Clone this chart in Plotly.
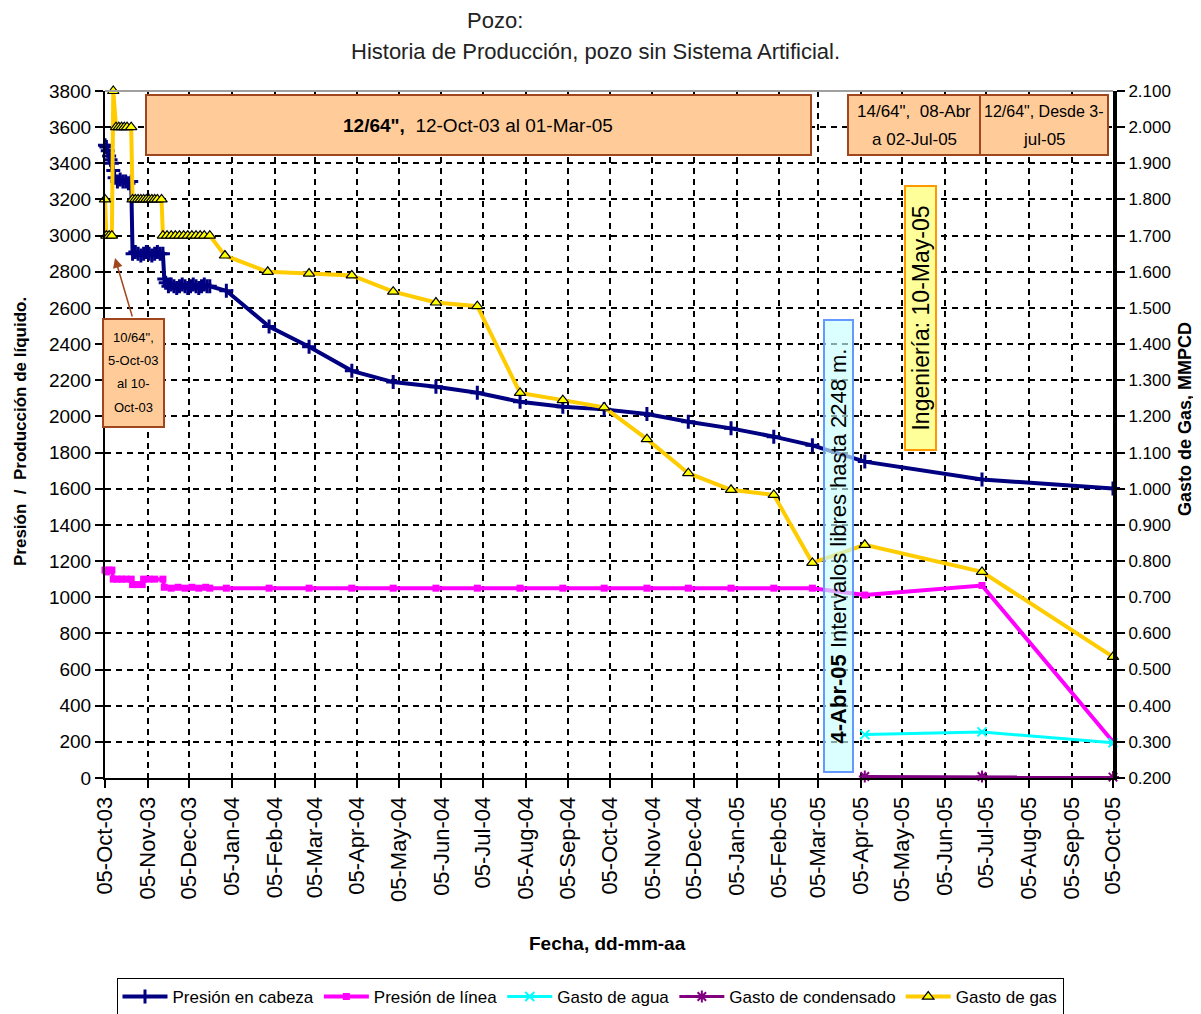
import plotly.graph_objects as go

# ---- datos ----
cab_fecha = ["2003-10-05", "2003-10-06", "2003-10-07", "2003-10-08", "2003-10-09", "2003-10-10",
             "2003-10-11", "2003-10-12", "2003-10-14", "2003-10-16", "2003-10-18", "2003-10-20",
             "2003-10-22", "2003-10-24", "2003-10-25", "2003-10-27", "2003-10-29", "2003-10-31",
             "2003-11-02", "2003-11-04", "2003-11-06", "2003-11-08", "2003-11-10", "2003-11-12",
             "2003-11-14", "2003-11-16", "2003-11-17", "2003-11-18", "2003-11-20", "2003-11-22",
             "2003-11-24", "2003-11-26", "2003-11-28", "2003-11-30", "2003-12-02", "2003-12-04",
             "2003-12-06", "2003-12-08", "2003-12-10", "2003-12-12", "2003-12-14", "2003-12-16",
             "2003-12-18", "2003-12-20", "2004-01-01", "2004-02-01", "2004-03-01", "2004-04-01",
             "2004-05-01", "2004-06-01", "2004-07-01", "2004-08-01", "2004-09-01", "2004-10-01",
             "2004-11-01", "2004-12-01", "2005-01-01", "2005-02-01", "2005-03-01", "2005-04-08",
             "2005-07-02", "2005-10-05"]
cab_presion = [3500, 3490, 3470, 3440, 3420, 3400,
               3360, 3320, 3300, 3310, 3300, 3300,
               3290, 3300, 2900, 2910, 2900, 2890,
               2900, 2910, 2900, 2890, 2900, 2910,
               2900, 2900, 2760, 2740, 2720, 2730,
               2720, 2710, 2720, 2730, 2720, 2710,
               2720, 2730, 2720, 2710, 2720, 2730,
               2720, 2720, 2695, 2497, 2386, 2252,
               2190, 2164, 2131, 2081, 2054, 2039,
               2013, 1971, 1934, 1888, 1840, 1750,
               1651, 1602]

lin_fecha = ["2003-10-05", "2003-10-06", "2003-10-08", "2003-10-10", "2003-10-11", "2003-10-14",
             "2003-10-17", "2003-10-20", "2003-10-24", "2003-10-25", "2003-10-28", "2003-11-01",
             "2003-11-02", "2003-11-06", "2003-11-10", "2003-11-16", "2003-11-17", "2003-11-22",
             "2003-11-27", "2003-12-02", "2003-12-07", "2003-12-12", "2003-12-17", "2003-12-20",
             "2004-01-01", "2004-02-01", "2004-03-01", "2004-04-01", "2004-05-01", "2004-06-01",
             "2004-07-01", "2004-08-01", "2004-09-01", "2004-10-01", "2004-11-01", "2004-12-01",
             "2005-01-01", "2005-02-01", "2005-03-01", "2005-04-08", "2005-07-02", "2005-10-05"]
lin_presion = [1150, 1140, 1150, 1150, 1100, 1100,
               1100, 1100, 1100, 1070, 1070, 1070,
               1100, 1100, 1100, 1100, 1055, 1050,
               1055, 1050, 1055, 1050, 1055, 1050,
               1050, 1050, 1050, 1050, 1050, 1050,
               1050, 1050, 1050, 1050, 1050, 1050,
               1050, 1050, 1050, 1012, 1065, 200]

agua_fecha = ["2005-04-08", "2005-07-02", "2005-10-05"]
agua_gasto = [240, 255, 195]

cond_fecha = ["2005-04-08", "2005-07-02", "2005-10-05"]
cond_gasto = [8, 8, 5]

gas_fecha = ["2003-10-05", "2003-10-06", "2003-10-08", "2003-10-10", "2003-10-11", "2003-10-13",
             "2003-10-15", "2003-10-17", "2003-10-19", "2003-10-21", "2003-10-24", "2003-10-25",
             "2003-10-27", "2003-10-29", "2003-10-31", "2003-11-02", "2003-11-04", "2003-11-06",
             "2003-11-08", "2003-11-10", "2003-11-12", "2003-11-15", "2003-11-16", "2003-11-19",
             "2003-11-22", "2003-11-25", "2003-11-28", "2003-12-01", "2003-12-04", "2003-12-07",
             "2003-12-10", "2003-12-13", "2003-12-16", "2003-12-20", "2003-12-31", "2004-01-31",
             "2004-03-01", "2004-04-01", "2004-05-01", "2004-06-01", "2004-07-01", "2004-08-01",
             "2004-09-01", "2004-10-01", "2004-11-01", "2004-12-01", "2005-01-01", "2005-02-01",
             "2005-03-01", "2005-04-08", "2005-07-02", "2005-10-05"]
gas_gasto = [1.80, 1.70, 1.70, 1.70, 2.10, 2.00,
             2.00, 2.00, 2.00, 2.00, 2.00, 1.80,
             1.80, 1.80, 1.80, 1.80, 1.80, 1.80,
             1.80, 1.80, 1.80, 1.80, 1.70, 1.70,
             1.70, 1.70, 1.70, 1.70, 1.70, 1.70,
             1.70, 1.70, 1.70, 1.70, 1.645, 1.60,
             1.595, 1.59, 1.545, 1.515, 1.505, 1.265,
             1.245, 1.225, 1.137, 1.043, 0.997, 0.983,
             0.795, 0.845, 0.77, 0.535]

tick_fechas = ["2003-10-05", "2003-11-05", "2003-12-05", "2004-01-05", "2004-02-05", "2004-03-05",
               "2004-04-05", "2004-05-05", "2004-06-05", "2004-07-05", "2004-08-05", "2004-09-05",
               "2004-10-05", "2004-11-05", "2004-12-05", "2005-01-05", "2005-02-05", "2005-03-05",
               "2005-04-05", "2005-05-05", "2005-06-05", "2005-07-05", "2005-08-05", "2005-09-05",
               "2005-10-05"]
tick_textos = ["05-Oct-03", "05-Nov-03", "05-Dec-03", "05-Jan-04", "05-Feb-04", "05-Mar-04",
               "05-Apr-04", "05-May-04", "05-Jun-04", "05-Jul-04", "05-Aug-04", "05-Sep-04",
               "05-Oct-04", "05-Nov-04", "05-Dec-04", "05-Jan-05", "05-Feb-05", "05-Mar-05",
               "05-Apr-05", "05-May-05", "05-Jun-05", "05-Jul-05", "05-Aug-05", "05-Sep-05",
               "05-Oct-05"]

FONT = "Liberation Sans, Arial"
OFF = 8                      # margen del body de la página
W, H = 1201 - OFF, 1014 - OFF
PX0, PX1, PY0, PY1 = 105, 1113, 91, 778   # área de trazado en la imagen


# pixeles de la imagen -> coordenadas paper
def px_x(p):
    return (p - PX0) / (PX1 - PX0)


def px_y(p):
    return (PY1 - p) / (PY1 - PY0)


def texto(x, y, s, size=17, angle=0, color="black", **kw):
    fig.add_annotation(xref="paper", yref="paper", x=px_x(x), y=px_y(y), showarrow=False,
                       xanchor="center", yanchor="middle", textangle=angle, text=s,
                       font=dict(size=size, color=color), **kw)


fig = go.Figure()

fig.add_trace(go.Scatter(
    x=cab_fecha, y=cab_presion, name="Presión en cabeza", mode="lines+markers",
    line=dict(color="#000080", width=4),
    marker=dict(symbol="cross-thin", size=10, line=dict(color="#000080", width=3)),
    cliponaxis=False
))
fig.add_trace(go.Scatter(
    x=lin_fecha, y=lin_presion, name="Presión de línea", mode="lines+markers",
    line=dict(color="#FF00FF", width=4),
    marker=dict(symbol="square", size=7, color="#FF00FF"),
    cliponaxis=False
))
fig.add_trace(go.Scatter(
    x=agua_fecha, y=agua_gasto, name="Gasto de agua", mode="lines+markers",
    line=dict(color="#00FFFF", width=3),
    marker=dict(symbol="x-thin", size=9, line=dict(color="#00FFFF", width=2)),
    cliponaxis=False
))
fig.add_trace(go.Scatter(
    x=cond_fecha, y=cond_gasto, name="Gasto de condensado", mode="lines+markers",
    line=dict(color="#800080", width=3),
    marker=dict(symbol="asterisk", size=10, line=dict(color="#800080", width=2)),
    cliponaxis=False
))
fig.add_trace(go.Scatter(
    x=gas_fecha, y=gas_gasto, name="Gasto de gas", mode="lines+markers", yaxis="y2",
    line=dict(color="#FFCC00", width=4),
    marker=dict(symbol="triangle-up", size=10, color="#FFFF00", line=dict(color="black", width=1.2)),
    cliponaxis=False
))

fig.update_layout(
    width=W, height=H,
    margin=dict(l=PX0 - OFF, r=W + OFF - PX1, t=PY0 - OFF, b=H + OFF - PY1, autoexpand=False),
    paper_bgcolor="white", plot_bgcolor="white",
    font=dict(family=FONT, size=17, color="black"),
    showlegend=True,
    legend=dict(orientation="h", x=px_x(590), y=px_y(978), xanchor="center", yanchor="top",
                bordercolor="black", borderwidth=1, bgcolor="white",
                font=dict(size=17), itemwidth=45, tracegroupgap=0),
    xaxis=dict(
        type="date", range=["2003-10-05", "2005-10-05"],
        tickvals=tick_fechas, ticktext=tick_textos, tickangle=-90,
        tickfont=dict(size=22),
        showgrid=True, gridcolor="black", gridwidth=1.5, griddash="6px,5px",
        showline=True, linecolor="black", linewidth=2,
        ticks="outside", ticklen=8, tickwidth=1.5, tickcolor="black",
        zeroline=False
    ),
    yaxis=dict(
        range=[0, 3800], dtick=200, tick0=0,
        showgrid=True, gridcolor="black", gridwidth=1.5, griddash="6px,5px",
        showline=True, linecolor="black", linewidth=2,
        ticks="outside", ticklen=8, tickwidth=1.5, tickcolor="black",
        tickfont=dict(size=19), zeroline=False
    ),
    yaxis2=dict(
        range=[0.2, 2.1], dtick=0.1, tick0=0.2, tickformat=".3f",
        overlaying="y", side="right", showgrid=False,
        showline=True, linecolor="black", linewidth=4,
        ticks="outside", ticklen=8, tickwidth=2, tickcolor="black",
        tickfont=dict(size=17), zeroline=False
    ),
)

# borde superior gris del área de trazado
fig.add_shape(type="line", xref="paper", yref="paper", x0=0, x1=1, y0=1, y1=1,
              line=dict(color="#A0A0A0", width=2))

# cuadros de estrangulador
peach, brown = "#FFCC99", "#A0461E"
for x0, x1, y0, y1 in [(146, 811, 95, 155), (848, 980, 95, 155), (980, 1108, 95, 155),
                       (103, 164, 319, 427)]:
    fig.add_shape(type="rect", xref="paper", yref="paper",
                  x0=px_x(x0), x1=px_x(x1), y0=px_y(y1), y1=px_y(y0),
                  fillcolor=peach, line=dict(color=brown, width=2))

texto(478, 125, "<b>12/64\",</b>  12-Oct-03 al 01-Mar-05", size=19)
texto(914, 111, "14/64\",  08-Abr", size=17)
texto(914, 139, "a 02-Jul-05", size=17)
texto(1044, 111, "12/64\", Desde 3-", size=16)
texto(1044, 139, "jul-05", size=17)

# cuadro pequeño con flecha
for yy, s in zip([337, 360, 383, 407], ["10/64\",", "5-Oct-03", "al 10-", "Oct-03"]):
    texto(133.5, yy, s, size=13)
fig.add_annotation(xref="paper", yref="paper", x=px_x(115), y=px_y(258),
                   ax=18, ay=61, showarrow=True, arrowhead=2, arrowsize=1.3, arrowwidth=1.5,
                   arrowcolor=brown, text=" ", font=dict(size=2))

# intervalos libres
texto(838, 546, "<b>4-Abr-05</b> Intervalos libres hasta 2248 m.", size=22, angle=-90,
      bgcolor="rgba(200,255,255,0.65)", bordercolor="#6699FF", borderwidth=2, borderpad=0,
      width=450, height=27)

# ingeniería
texto(920, 318, "Ingeniería: 10-May-05", size=23, angle=-90,
      bgcolor="#FFFF99", bordercolor="#FF9900", borderwidth=2, borderpad=0, width=262, height=29)

# títulos
texto(495, 20, "Pozo:", size=22, color="#222222")
texto(595, 52, "Historia de Producción, pozo sin Sistema Artificial.", size=22, color="#222222")
texto(20, 432, "<b>Presión  /  Producción de líquido.</b>", size=17, angle=-90)
texto(1185, 419, "<b>Gasto de Gas, MMPCD</b>", size=18, angle=-90)
texto(607, 943, "<b>Fecha, dd-mm-aa</b>", size=19)

fig.write_html("out.html")
